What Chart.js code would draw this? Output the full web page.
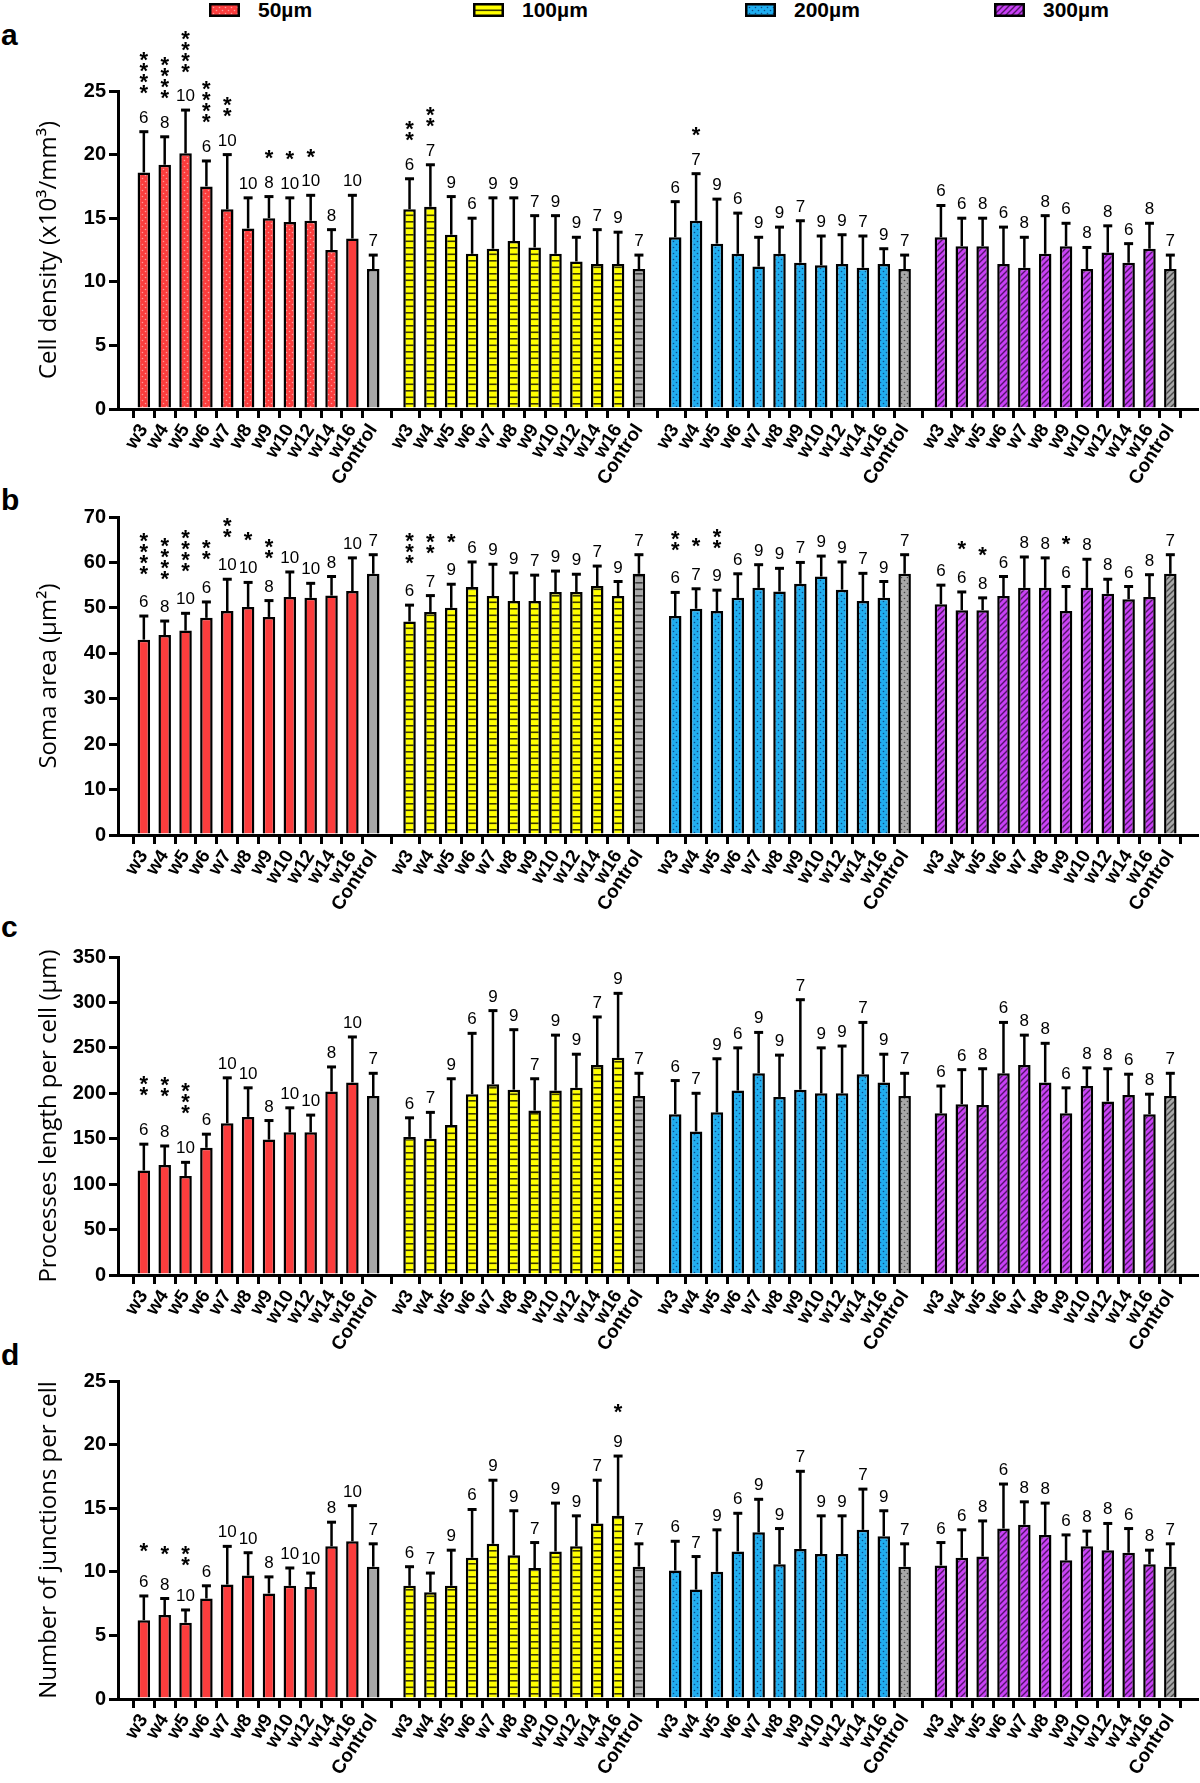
<!DOCTYPE html>
<html>
<head>
<meta charset="utf-8">
<script src="https://cdn.jsdelivr.net/npm/chart.js@4.4.0/dist/chart.umd.min.js"></script>
<style>
  body { margin: 0; width: 1200px; height: 1783px; background: #fff; position: relative; overflow: hidden; }
  canvas.panel { position: absolute; left: 0; }
  .letter { position: absolute; left: 1px; font: bold 30px "Liberation Sans", Arial, sans-serif; line-height: 30px; color: #000; }
  .legtxt { position: absolute; top: -1px; font: bold 21px "Liberation Sans", Arial, sans-serif; line-height: 21px; color: #000; }
  .legbox { position: absolute; top: 3px; }
</style>
</head>
<body>
<div id="legend"></div>
<div class="letter" style="top:20px">a</div>
<div class="letter" style="top:485px">b</div>
<div class="letter" style="top:912px">c</div>
<div class="letter" style="top:1340px">d</div>
<canvas id="pa" class="panel" width="1200" height="500" style="top:0px"></canvas>
<canvas id="pb" class="panel" width="1200" height="500" style="top:426px"></canvas>
<canvas id="pc" class="panel" width="1200" height="500" style="top:866px"></canvas>
<canvas id="pd" class="panel" width="1200" height="500" style="top:1290px"></canvas>
<script>
// bar labels inside every group, and the four groups
const weeks = ['w3', 'w4', 'w5', 'w6', 'w7', 'w8', 'w9', 'w10', 'w12', 'w14', 'w16', 'Control'];
const groups = ['50µm', '100µm', '200µm', '300µm'];

// a: cell density (x10^3/mm^3) - mean, SD, n, number of stars
const densityMean = [
  18.6, 19.2, 20.1, 17.5, 15.7, 14.2, 15.0, 14.7, 14.8, 12.5, 13.4, 11.0,
  15.7, 15.9, 13.7, 12.2, 12.6, 13.2, 12.7, 12.2, 11.6, 11.4, 11.4, 11.0,
  13.5, 14.8, 13.0, 12.2, 11.2, 12.2, 11.5, 11.3, 11.4, 11.1, 11.4, 11.0,
  13.5, 12.8, 12.8, 11.4, 11.1, 12.2, 12.8, 11.0, 12.3, 11.5, 12.6, 11.0];
const densitySD = [
  3.2, 2.2, 3.4, 2.0, 4.3, 2.4, 1.7, 1.9, 2.0, 1.6, 3.4, 1.1,
  2.4, 3.3, 3.0, 2.8, 4.0, 3.4, 2.5, 3.0, 1.9, 2.7, 2.5, 1.1,
  2.8, 3.7, 3.5, 3.2, 2.3, 2.1, 3.3, 2.3, 2.3, 2.5, 1.2, 1.1,
  2.5, 2.2, 2.2, 2.9, 2.4, 3.0, 1.8, 1.7, 2.1, 1.5, 2.0, 1.1];
const densityN = [
  6, 8, 10, 6, 10, 10, 8, 10, 10, 8, 10, 7,
  6, 7, 9, 6, 9, 9, 7, 9, 9, 7, 9, 7,
  6, 7, 9, 6, 9, 9, 7, 9, 9, 7, 9, 7,
  6, 6, 8, 6, 8, 8, 6, 8, 8, 6, 8, 7];
const densitySig = [
  4, 4, 4, 4, 2, 0, 1, 1, 1, 0, 0, 0,
  2, 2, 0, 0, 0, 0, 0, 0, 0, 0, 0, 0,
  0, 1, 0, 0, 0, 0, 0, 0, 0, 0, 0, 0,
  0, 0, 0, 0, 0, 0, 0, 0, 0, 0, 0, 0];

// b: soma area (µm²)
const somaMean = [
  43.0, 44.0, 45.0, 47.8, 49.3, 50.2, 48.0, 52.4, 52.2, 52.7, 53.7, 57.5,
  47.0, 49.1, 50.0, 54.6, 52.6, 51.5, 51.5, 53.5, 53.5, 54.8, 52.6, 57.5,
  48.2, 49.8, 49.3, 52.2, 54.4, 53.6, 55.3, 56.9, 54.0, 51.5, 52.2, 57.5,
  50.8, 49.5, 49.5, 52.6, 54.4, 54.4, 49.3, 54.4, 53.1, 51.9, 52.4, 57.5];
const somaSD = [
  5.2, 3.1, 3.8, 3.5, 7.0, 5.4, 3.6, 5.5, 3.2, 4.2, 7.3, 4.2,
  3.6, 3.6, 5.2, 5.5, 7.0, 6.2, 5.7, 4.6, 3.9, 4.4, 3.2, 4.2,
  5.2, 4.4, 4.6, 5.3, 5.1, 5.1, 4.7, 4.5, 6.1, 6.1, 3.6, 4.2,
  4.2, 4.0, 2.7, 4.3, 6.8, 6.6, 5.4, 6.3, 3.2, 2.8, 4.9, 4.2];
const somaN = densityN;
const somaSig = [
  4, 4, 4, 2, 2, 1, 2, 0, 0, 0, 0, 0,
  3, 2, 1, 0, 0, 0, 0, 0, 0, 0, 0, 0,
  2, 1, 2, 0, 0, 0, 0, 0, 0, 0, 0, 0,
  0, 1, 1, 0, 0, 0, 1, 0, 0, 0, 0, 0];

// c: processes length per cell (µm)
const lengthMean = [
  115, 121, 109, 140, 167, 174, 149, 157, 157, 202, 212, 197,
  152, 150, 165, 199, 210, 204, 181, 203, 206, 231, 239, 197,
  177, 158, 179, 203, 222, 196, 204, 200, 200, 221, 212, 197,
  178, 188, 187, 222, 231, 212, 178, 208, 191, 198, 177, 197];
const lengthSD = [
  29, 21, 15, 15, 50, 32, 21, 27, 19, 27, 50, 25,
  21, 29, 51, 67, 81, 66, 35, 61, 37, 53, 71, 25,
  37, 42, 59, 47, 45, 46, 99, 50, 52, 57, 31, 25,
  30, 38, 40, 56, 33, 43, 28, 20, 36, 23, 22, 25];
const lengthN = densityN;
const lengthSig = [
  2, 2, 3, 0, 0, 0, 0, 0, 0, 0, 0, 0,
  0, 0, 0, 0, 0, 0, 0, 0, 0, 0, 0, 0,
  0, 0, 0, 0, 0, 0, 0, 0, 0, 0, 0, 0,
  0, 0, 0, 0, 0, 0, 0, 0, 0, 0, 0, 0];

// d: number of junctions per cell
const junctionMean = [
  6.2, 6.6, 6.0, 7.9, 9.0, 9.7, 8.3, 8.9, 8.8, 12.0, 12.4, 10.4,
  8.9, 8.4, 8.9, 11.1, 12.2, 11.3, 10.3, 11.6, 12.0, 13.8, 14.4, 10.4,
  10.1, 8.6, 10.0, 11.6, 13.1, 10.6, 11.8, 11.4, 11.4, 13.3, 12.8, 10.4,
  10.5, 11.1, 11.2, 13.4, 13.7, 12.9, 10.9, 12.0, 11.7, 11.5, 10.6, 10.4];
const junctionSD = [
  1.9, 1.3, 1.0, 1.0, 3.0, 1.8, 1.3, 1.4, 1.1, 1.9, 2.8, 1.8,
  1.5, 1.5, 2.8, 3.8, 5.0, 3.5, 2.0, 3.8, 2.4, 3.4, 4.7, 1.8,
  2.3, 2.6, 3.3, 3.0, 2.6, 2.8, 6.1, 3.0, 3.0, 3.2, 2.0, 1.8,
  1.8, 2.2, 2.8, 3.5, 1.8, 2.5, 2.0, 1.2, 2.1, 1.9, 1.1, 1.8];
const junctionN = densityN;
const junctionSig = [
  1, 1, 2, 0, 0, 0, 0, 0, 0, 0, 0, 0,
  0, 0, 0, 0, 0, 0, 0, 0, 0, 0, 1, 0,
  0, 0, 0, 0, 0, 0, 0, 0, 0, 0, 0, 0,
  0, 0, 0, 0, 0, 0, 0, 0, 0, 0, 0, 0];

const groupColors = ['#fb3d3d', '#ffff00', '#20aef0', '#c940f6'];
const controlColor = '#a8a8a8';
const GROUP_STEP = 12.74; // slots from one group's w3 to the next

const positions = [];
for (let g = 0; g < 4; g++) for (let i = 0; i < 12; i++) positions.push(g * GROUP_STEP + i);

function makeFill(kind, base, ink) {
  if (kind === 'plain') return base;
  const c = document.createElement('canvas');
  const g = c.getContext('2d');
  if (kind === 'dots') {
    c.width = 6; c.height = 6;
    g.fillStyle = base; g.fillRect(0, 0, 6, 6);
    g.fillStyle = ink;
    g.beginPath(); g.arc(1.5, 1.5, 0.8, 0, Math.PI * 2); g.arc(4.5, 4.5, 0.8, 0, Math.PI * 2); g.fill();
  } else if (kind === 'lines') {
    c.width = 4; c.height = 13;
    g.fillStyle = base; g.fillRect(0, 0, 4, 13);
    g.fillStyle = ink; g.fillRect(0, 0, 4, 1.6); g.fillRect(0, 6.5, 4, 1.6);
  } else {
    c.width = 6; c.height = 6;
    g.fillStyle = base; g.fillRect(0, 0, 6, 6);
    g.strokeStyle = ink; g.lineWidth = 1.4;
    g.beginPath();
    g.moveTo(0, 6); g.lineTo(6, 0);
    g.moveTo(-3, 3); g.lineTo(3, -3);
    g.moveTo(3, 9); g.lineTo(9, 3);
    g.stroke();
  }
  return g.createPattern(c, 'repeat');
}

const kinds = ['dots', 'lines', 'dots', 'hatch'];
const inks = ['#ff9c9c', '#3b3a00', 'rgba(10,50,110,0.8)', '#521468'];
const ctrlInks = ['#a8a8a8', '#3c3c3c', 'rgba(40,40,40,0.8)', '#4a4a4a'];

function barFills(redDots) {
  const out = [];
  for (let g = 0; g < 4; g++) {
    for (let i = 0; i < 12; i++) {
      const ctrl = i === 11;
      let kind = kinds[g];
      if (g === 0 && (!redDots || i >= 10)) kind = 'plain';
      out.push(makeFill(kind, ctrl ? controlColor : groupColors[g], ctrl ? ctrlInks[g] : inks[g]));
    }
  }
  return out;
}

// legend
const legendX = [209, 473, 745, 994];
const legend = document.getElementById('legend');
groups.forEach((name, g) => {
  const box = document.createElement('canvas');
  box.width = 31; box.height = 14; box.className = 'legbox';
  box.style.left = legendX[g] + 'px';
  const bx = box.getContext('2d');
  bx.fillStyle = makeFill(kinds[g], groupColors[g], inks[g]);
  bx.fillRect(0, 0, 31, 14);
  bx.strokeStyle = '#000'; bx.lineWidth = 2.5; bx.strokeRect(1.25, 1.25, 28.5, 11.5);
  legend.appendChild(box);
  const t = document.createElement('div');
  t.className = 'legtxt'; t.textContent = name;
  t.style.left = (legendX[g] + 49) + 'px';
  legend.appendChild(t);
});

// error bars, n labels and stars
const annotations = {
  id: 'annotations',
  afterDatasetsDraw(chart) {
    const o = chart.options.plugins.annotations;
    const ctx = chart.ctx;
    const yScale = chart.scales.y;
    const bars = chart.getDatasetMeta(0).data;
    ctx.save();
    ctx.strokeStyle = '#000';
    ctx.fillStyle = '#000';
    ctx.textAlign = 'center';
    ctx.textBaseline = 'alphabetic';
    bars.forEach((bar, k) => {
      const x = bar.x;
      const top = yScale.getPixelForValue(o.mean[k] + o.sd[k]);
      ctx.lineWidth = 2.5;
      ctx.beginPath(); ctx.moveTo(x, bar.y); ctx.lineTo(x, top); ctx.stroke();
      ctx.lineWidth = 3;
      ctx.beginPath(); ctx.moveTo(x - 4.5, top); ctx.lineTo(x + 4.5, top); ctx.stroke();
      const nBase = top - 9;
      ctx.font = '17px "Liberation Sans", Arial, sans-serif';
      ctx.fillText(String(o.n[k]), x, nBase);
      ctx.font = 'bold 22px "Liberation Sans", Arial, sans-serif';
      for (let s = 0; s < o.sig[k]; s++) {
        const cy = nBase - o.starOffset - s * 11;
        ctx.fillText('*', x, cy + 12.5);
      }
    });
    ctx.restore();
  }
};

const panels = [
  { id: 'pa', title: 'Cell density (x10³/mm³)', max: 25, step: 5, mean: densityMean, sd: densitySD, n: densityN, sig: densitySig, starOffset: 35, redDots: true },
  { id: 'pb', title: 'Soma area (µm²)', max: 70, step: 10, mean: somaMean, sd: somaSD, n: somaN, sig: somaSig, starOffset: 39, redDots: false },
  { id: 'pc', title: 'Processes length per cell (µm)', max: 350, step: 50, mean: lengthMean, sd: lengthSD, n: lengthN, sig: lengthSig, starOffset: 46, redDots: false },
  { id: 'pd', title: 'Number of junctions per cell', max: 25, step: 5, mean: junctionMean, sd: junctionSD, n: junctionN, sig: junctionSig, starOffset: 41, redDots: false }
];

panels.forEach(p => {
  new Chart(document.getElementById(p.id), {
    type: 'bar',
    data: {
      datasets: [{
        data: positions.map((x, k) => ({ x: x, y: p.mean[k] })),
        backgroundColor: barFills(p.redDots),
        borderColor: '#000',
        borderWidth: 2.5,
        barPercentage: 0.6,
        categoryPercentage: 1
      }]
    },
    options: {
      responsive: false,
      animation: false,
      events: [],
      layout: { padding: { top: 91, left: 0, right: 3, bottom: 0 } },
      scales: {
        x: {
          type: 'linear',
          min: -0.7,
          max: 3 * GROUP_STEP + 11 + 0.74,
          afterBuildTicks: s => { s.ticks = positions.map(v => ({ value: v })); },
          afterFit: s => { s.height = 91; },
          border: { color: '#000', width: 3 },
          grid: { drawOnChartArea: false, tickLength: 9, color: '#000', lineWidth: 3 },
          ticks: {
            autoSkip: false, minRotation: 57, maxRotation: 57, padding: 2, color: '#000',
            font: { family: 'Liberation Sans', size: 19, weight: 'bold' },
            callback: (v, i) => weeks[i % 12]
          }
        },
        y: {
          min: 0,
          max: p.max,
          afterFit: s => { s.width = 118; },
          border: { color: '#000', width: 3 },
          grid: { drawOnChartArea: false, tickLength: 9, color: '#000', lineWidth: 3 },
          ticks: { stepSize: p.step, padding: 3, color: '#000', font: { family: 'Liberation Sans', size: 20, weight: 'bold' } },
          title: { display: true, text: p.title, color: '#000', font: { family: 'Open Sans', size: 24 }, padding: { top: 35, bottom: 0 } }
        }
      },
      plugins: {
        legend: { display: false },
        tooltip: { enabled: false },
        annotations: { mean: p.mean, sd: p.sd, n: p.n, sig: p.sig, starOffset: p.starOffset }
      }
    },
    plugins: [annotations]
  });
});
</script>
</body>
</html>
